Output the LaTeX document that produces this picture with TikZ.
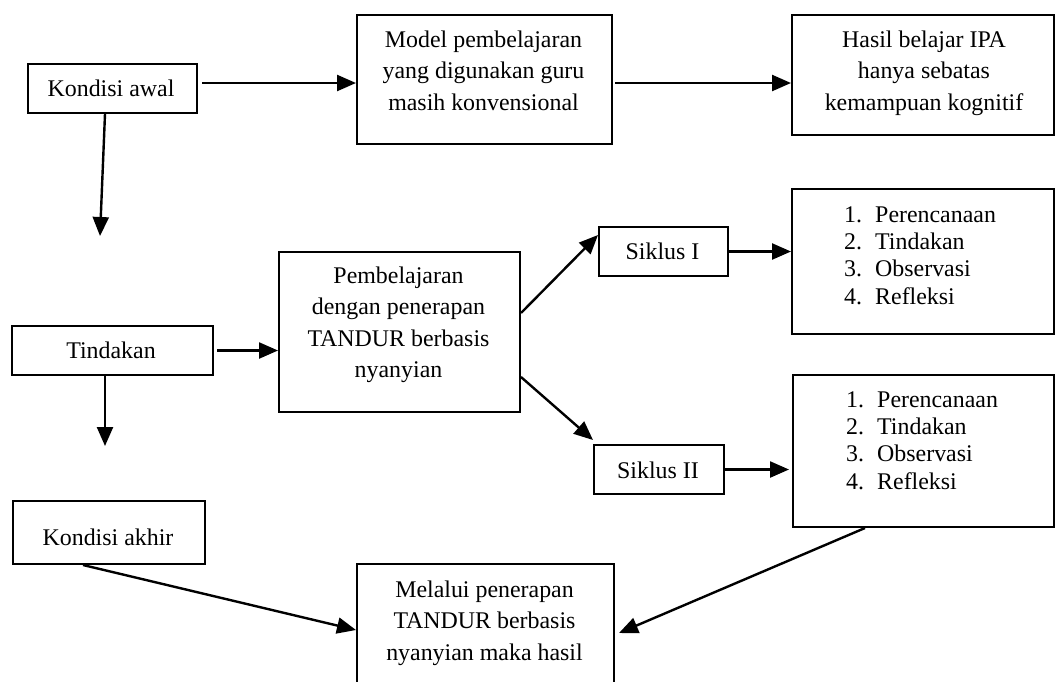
\documentclass[tikz,border=0pt]{standalone}
\usepackage{fontspec}
\setmainfont{Liberation Serif}
\usetikzlibrary{arrows.meta,calc}
\begin{document}
\begin{tikzpicture}[x=1pt,y=-1pt,
  box/.style={draw,line width=2pt,inner sep=0pt,anchor=north west},
  txt/.style={inner sep=0pt,anchor=base,font=\fontsize{23.9}{31.5}\selectfont},
  lst/.style={inner sep=0pt,anchor=base west,font=\fontsize{23.9}{27.4}\selectfont},
  arr/.style={line width=2.4pt,-{Triangle[length=19pt,width=16pt]}}]
\clip (0,0) rectangle (1056,681);
\fill[white] (0,0) rectangle (1056,681);
% boxes
\node[box,minimum width=169pt,minimum height=49pt] (ka) at (27,63) {};
\node[box,minimum width=255pt,minimum height=129pt] (model) at (356,14) {};
\node[box,minimum width=262pt,minimum height=120pt] (hasil) at (791,14) {};
\node[box,minimum width=201pt,minimum height=49pt] (tin) at (11,325) {};
\node[box,minimum width=241pt,minimum height=160pt] (pemb) at (278,251) {};
\node[box,minimum width=129pt,minimum height=49pt] (s1) at (598,226) {};
\node[box,minimum width=130pt,minimum height=49pt] (s2) at (593,444) {};
\node[box,minimum width=262pt,minimum height=145pt] (l1) at (791,188) {};
\node[box,minimum width=261pt,minimum height=152pt] (l2) at (792,374) {};
\node[box,minimum width=192pt,minimum height=63pt] (kak) at (12,500) {};
\node[box,minimum width=257pt,minimum height=137pt] (mel) at (356,563) {};
% texts
\node[txt] (kat) at (111,96) {Kondisi awal};
\node[txt] (modelt) at (483.5,47) {\begin{tabular}[t]{@{}c@{}}Model pembelajaran\\yang digunakan guru\\masih konvensional\end{tabular}};
\node[txt] (hasilt) at (924,47) {\begin{tabular}[t]{@{}c@{}}Hasil belajar IPA\\hanya sebatas\\kemampuan kognitif\end{tabular}};
\node[txt] (tint) at (111,358) {Tindakan};
\node[txt] (pembt) at (398.5,283) {\begin{tabular}[t]{@{}c@{}}Pembelajaran\\dengan penerapan\\TANDUR berbasis\\nyanyian\end{tabular}};
\node[txt] (s1t) at (662.5,259) {Siklus I};
\node[txt] (s2t) at (658,478) {Siklus II};
\node[lst] (l1t) at (844,222) {\begin{tabular}[t]{@{}l@{}}\makebox[31pt][l]{1.}Perencanaan\\\makebox[31pt][l]{2.}Tindakan\\\makebox[31pt][l]{3.}Observasi\\\makebox[31pt][l]{4.}Refleksi\end{tabular}};
\node[lst] (l2t) at (846,407) {\begin{tabular}[t]{@{}l@{}}\makebox[31pt][l]{1.}Perencanaan\\\makebox[31pt][l]{2.}Tindakan\\\makebox[31pt][l]{3.}Observasi\\\makebox[31pt][l]{4.}Refleksi\end{tabular}};
\node[txt] (kakt) at (108,545) {Kondisi akhir};
\node[txt] (melt) at (484.5,597) {\begin{tabular}[t]{@{}c@{}}Melalui penerapan\\TANDUR berbasis\\nyanyian maka hasil\end{tabular}};
% free ends
\coordinate (c1) at (100,236);
\coordinate (c2) at (105,446);
% connectors
\draw[arr] ($(ka.east |- 0,83)+(4,0)$) -- (model.west |- 0,83);
\draw[arr] ($(model.east |- 0,83)+(2,0)$) -- (hasil.west |- 0,83);
\draw[arr] (ka.south -| 105,0) -- (c1);
\draw[arr] ($(tin.east)+(3,0)$) -- (pemb.west |- tin.east);
\draw[arr] (tin.south -| c2) -- (c2);
\draw[arr] (pemb.east |- 0,313) -- (s1.west |- 0,235);
\draw[arr] (s1.east) -- (l1.west |- s1.east);
\draw[arr] (pemb.east |- 0,377) -- ($(s2.north west)+(0,-4)$);
\draw[arr] (s2.east) -- ($(l2.west |- s2.east)+(-3,0)$);
\draw[arr] (l2.south -| 865,0) -- ($(mel.east |- 0,633)+(4,0)$);
\draw[arr] (kak.south -| 83,0) -- (mel.west |- 0,630);
\end{tikzpicture}
\end{document}
